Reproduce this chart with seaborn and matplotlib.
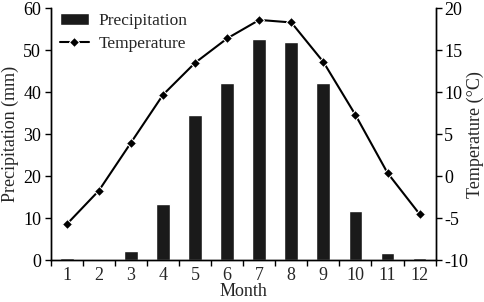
import matplotlib
matplotlib.use("Agg")
import matplotlib.pyplot as plt
import numpy as np
import pandas as pd
import seaborn as sns

months = ["1", "2", "3", "4", "5", "6", "7", "8", "9", "10", "11", "12"]
precip = [0.5, 0.3, 2.1, 13.5, 34.5, 42.2, 52.6, 51.9, 42.2, 11.8, 1.7, 0.5]
temp = [-5.7, -1.7, 4.0, 9.7, 13.5, 16.4, 18.6, 18.3, 13.6, 7.3, 0.4, -4.5]

sns.set_style("ticks")
plt.rcParams["font.family"] = ["Liberation Serif", "DejaVu Serif"]
plt.rcParams["font.size"] = 13
plt.rcParams["axes.unicode_minus"] = False

df = pd.DataFrame({"Month": months, "Precipitation": precip, "Temperature": temp})
df["pos"] = np.arange(len(months))

fig, ax = plt.subplots(figsize=(4.84, 3.02), dpi=100)
sns.barplot(data=df, x="Month", y="Precipitation", color="#1a1a1a", width=0.43,
            saturation=1, ax=ax, label="Precipitation")
ax2 = ax.twinx()
sns.lineplot(data=df, x="pos", y="Temperature", color="black", marker="D",
             markersize=5.5, linewidth=1.5, ax=ax2, label="Temperature", legend=False)

ax.set_xlim(-0.5, 11.5)
ax.set_ylim(0, 60)
ax2.set_ylim(-10, 20)
ax.set_yticks(range(0, 61, 10))
ax2.set_yticks(range(-10, 21, 5))
ax.set_xticks(np.arange(-0.5, 12, 1))
ax.set_xticklabels([])
ax.set_xticks(np.arange(12), minor=True)
ax.set_xticklabels(months, minor=True)
ax.tick_params(axis="x", which="minor", length=0, pad=5)
ax.tick_params(axis="both", which="major", direction="out", length=4, width=1, colors="black")
ax2.tick_params(axis="y", direction="out", length=4, width=1, colors="black", pad=2)
ax.tick_params(axis="y", pad=3)

for a in (ax, ax2):
    a.spines["top"].set_visible(False)
    for s in ("left", "right", "bottom"):
        a.spines[s].set_color("black")
        a.spines[s].set_linewidth(1)
ax2.spines["right"].set_visible(True)

ax.set_xlabel("Month", labelpad=-1)
ax.set_ylabel("Precipitation (mm)", labelpad=3)
ax2.set_ylabel("Temperature (°C)", labelpad=-1)

h1, l1 = ax.get_legend_handles_labels()
h2, l2 = ax2.get_legend_handles_labels()
ax.legend(h1 + h2, l1 + l2, loc="upper left", frameon=False, fontsize=12.5,
          handlelength=1.7, handletextpad=0.55, borderaxespad=0, labelspacing=0.4,
          bbox_to_anchor=(0.005, 1.01))

fig.subplots_adjust(left=0.105, right=0.9, top=0.973, bottom=0.138)
fig.savefig("out.png", dpi=100)
